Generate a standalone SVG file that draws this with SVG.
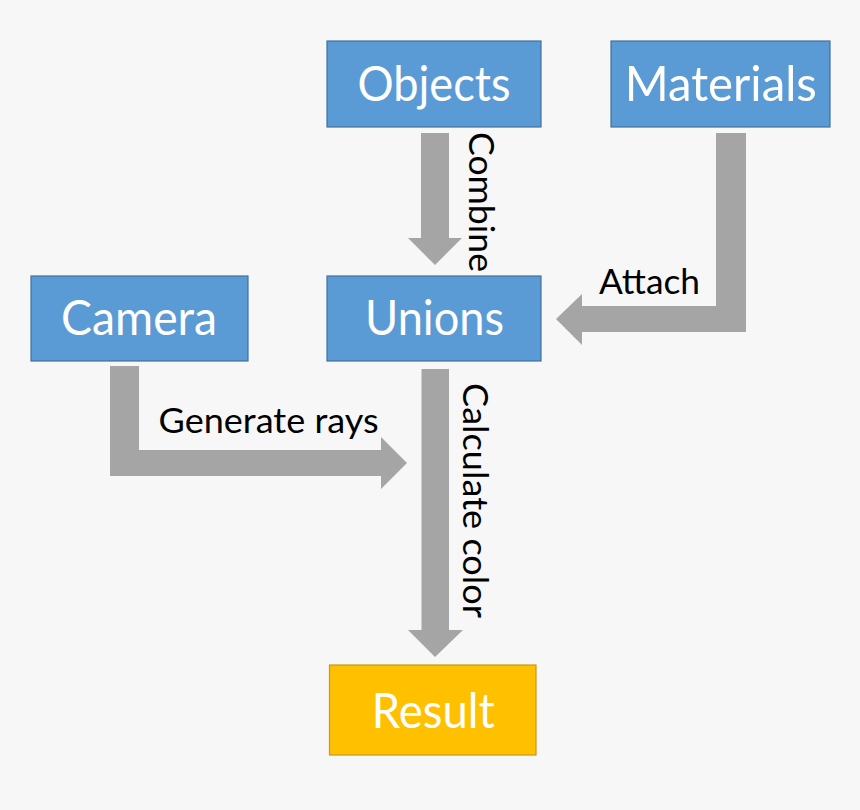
<svg xmlns="http://www.w3.org/2000/svg" width="860" height="810" viewBox="0 0 860 810">
<style>
.bg{fill:#F7F7F7}
.box{fill:#5B9BD5;stroke:#41719C;stroke-width:1.2}
.res{fill:#FFC000;stroke:#C9971A;stroke-width:1.2}
.nl{font-family:Lato,"Open Sans","Liberation Sans",sans-serif;font-size:49px;fill:#FFFFFF;text-anchor:middle}
.el{font-family:Lato,"Open Sans","Liberation Sans",sans-serif;font-size:35px;fill:#000000}
.arr{fill:#A5A5A5}
</style>
<rect class="bg" x="0" y="0" width="860" height="810"/>
<g id="connectors">
<g id="e-combine">
<polygon class="arr" points="421,133 449,133 449,238 462,238 435,265 408,238 421,238"/>
<text class="el" transform="translate(469,132) rotate(90)" textLength="140" lengthAdjust="spacingAndGlyphs">Combine</text>
</g>
<g id="e-attach">
<polygon class="arr" points="716,133 746,133 746,332 582,332 582,345 556,319 582,294 582,306 716,306"/>
<text class="el" x="599" y="294" textLength="101" lengthAdjust="spacingAndGlyphs">Attach</text>
</g>
<g id="e-generate">
<polygon class="arr" points="110,366 139,366 139,450 381,450 381,437 407,463 381,489 381,476 110,476"/>
<text class="el" x="158.6" y="433.3" textLength="220" lengthAdjust="spacingAndGlyphs">Generate rays</text>
</g>
<g id="e-calculate">
<polygon class="arr" points="421.5,369 449,369 449,630 463,630 435,657 408,630 421.5,630"/>
<text class="el" transform="translate(463,383) rotate(90)" textLength="235" lengthAdjust="spacingAndGlyphs">Calculate color</text>
</g>
</g>
<g id="objects">
<rect class="box" x="327" y="41" width="214" height="86"/>
<text class="nl" x="434" y="101" textLength="153" lengthAdjust="spacingAndGlyphs">Objects</text>
</g>
<g id="materials">
<rect class="box" x="611" y="41" width="219" height="86"/>
<text class="nl" x="720.8" y="101" textLength="192" lengthAdjust="spacingAndGlyphs">Materials</text>
</g>
<g id="camera">
<rect class="box" x="31" y="276" width="217" height="85"/>
<text class="nl" x="139.1" y="335" textLength="156" lengthAdjust="spacingAndGlyphs">Camera</text>
</g>
<g id="unions">
<rect class="box" x="327" y="276" width="214" height="85"/>
<text class="nl" x="434.6" y="335" textLength="139" lengthAdjust="spacingAndGlyphs">Unions</text>
</g>
<g id="result">
<rect class="res" x="329.5" y="665" width="206.5" height="90"/>
<text class="nl" x="433.3" y="727.7" textLength="123" lengthAdjust="spacingAndGlyphs">Result</text>
</g>
</svg>
